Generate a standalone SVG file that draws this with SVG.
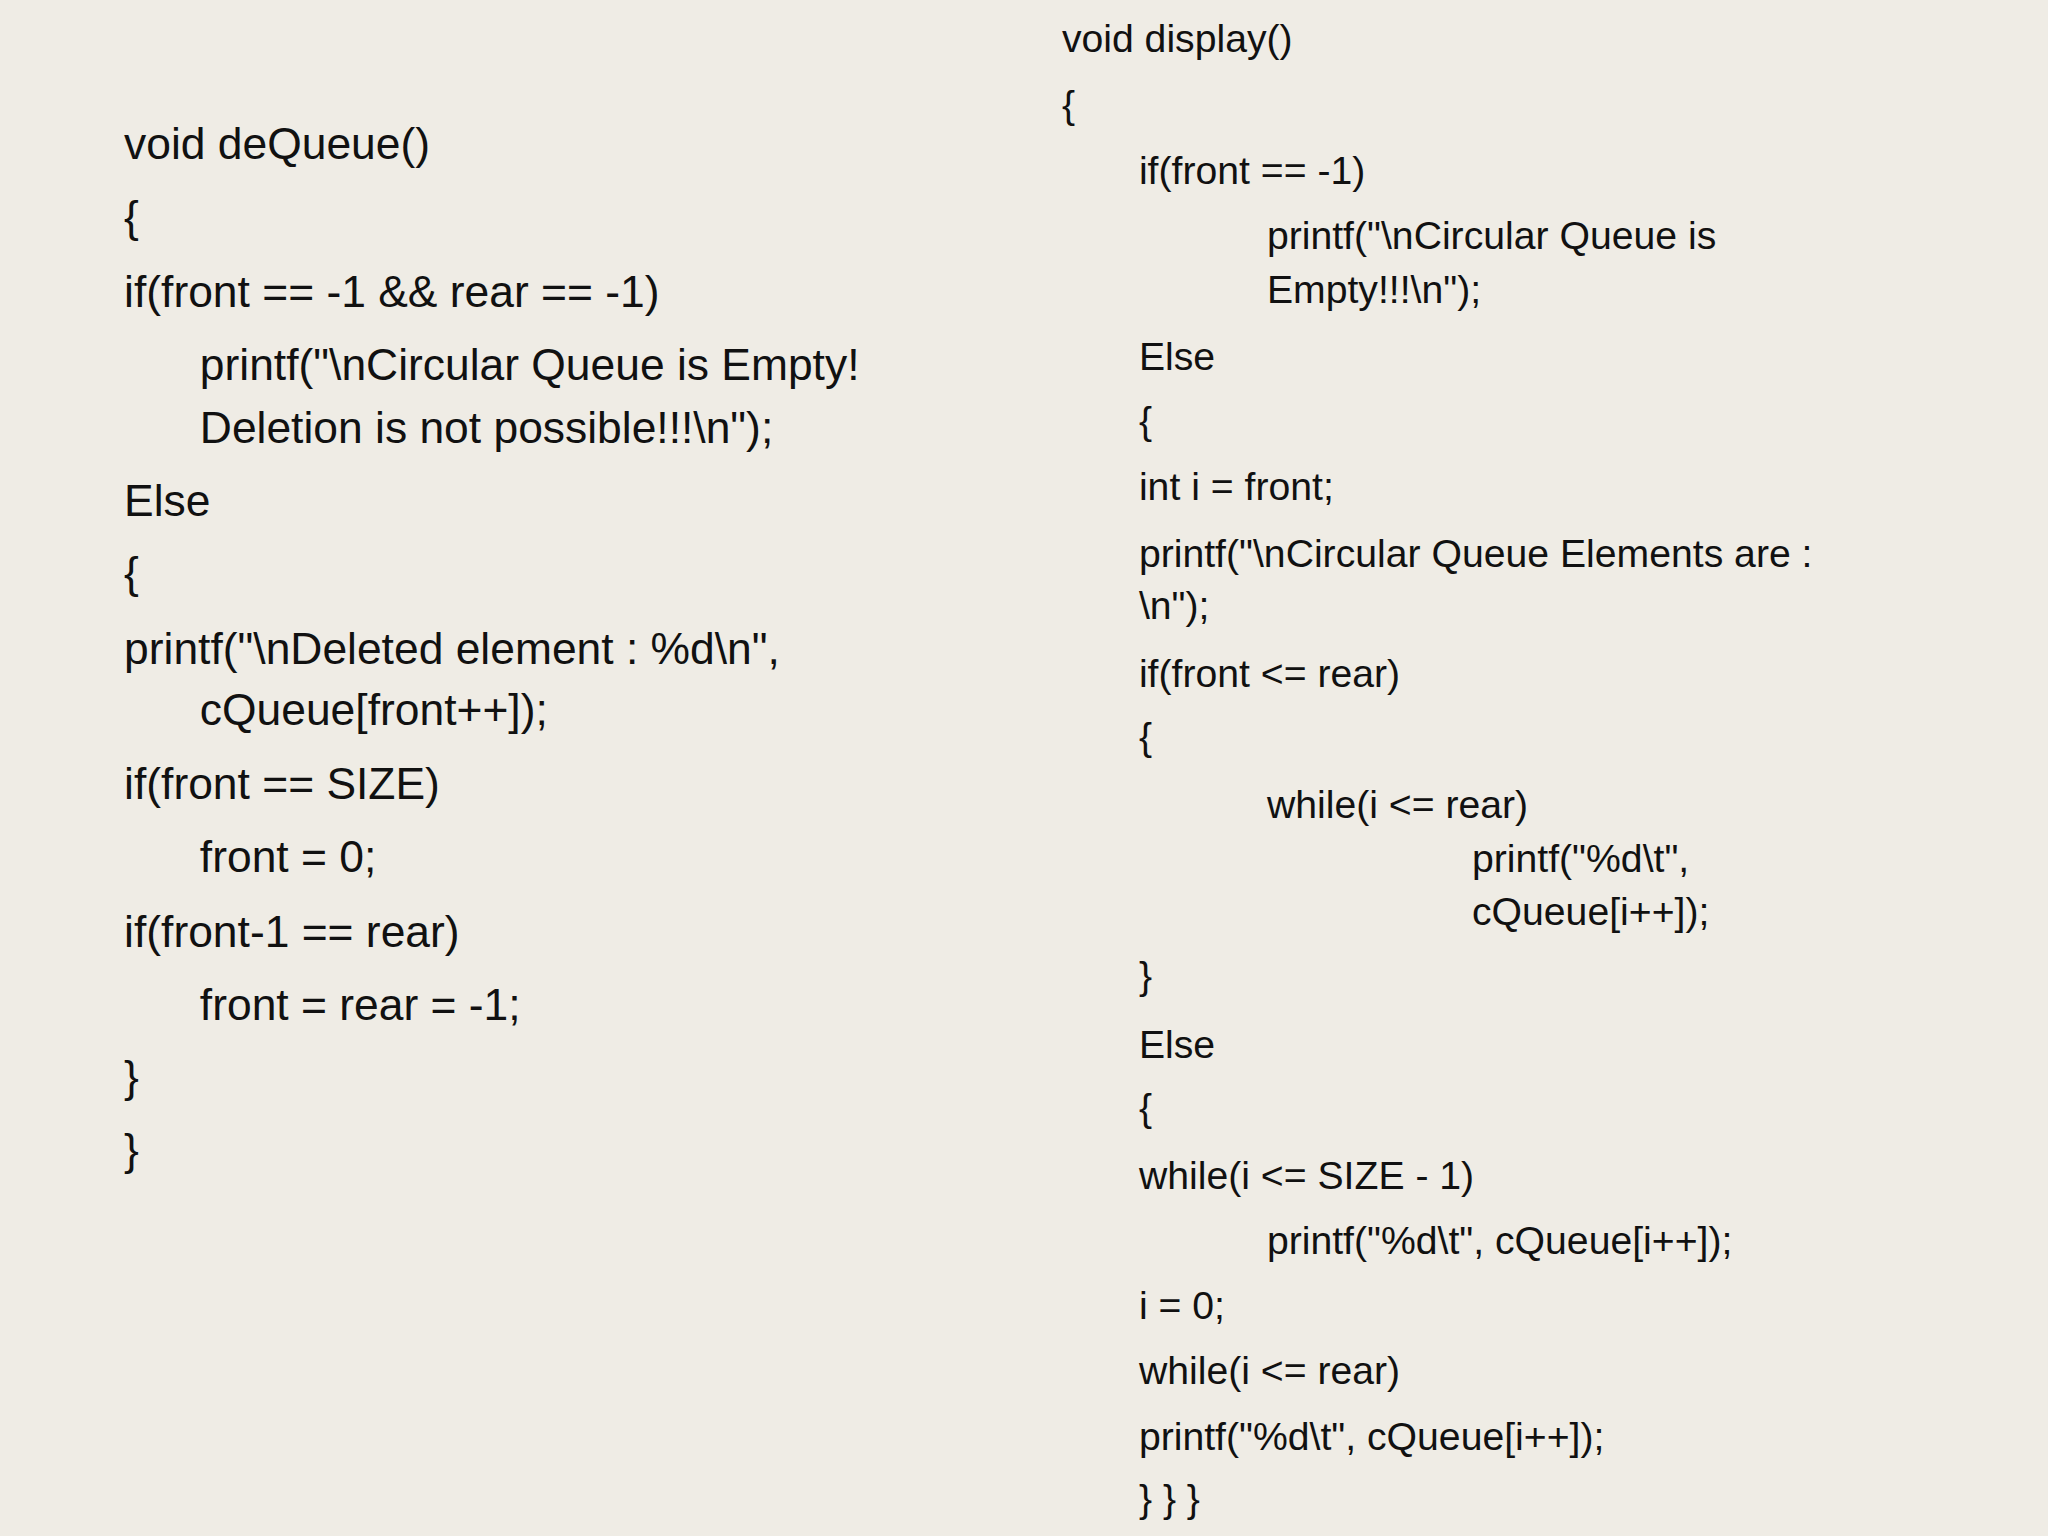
<svg xmlns="http://www.w3.org/2000/svg" width="2048" height="1536" viewBox="0 0 2048 1536">
<style>
.l{font-family:"Liberation Sans",Arial,sans-serif;font-size:34px;fill:#111}
.r{font-family:"Liberation Sans",Arial,sans-serif;font-size:30px;fill:#111}
</style>
<rect width="2048" height="1536" fill="#EFECE5"/>
<g transform="scale(1.30612)">
<g id="dequeue" class="l">
<text x="95" y="122">void deQueue()</text>
<text x="95" y="178">{</text>
<text x="95" y="235">if(front == -1 &amp;&amp; rear == -1)</text>
<text x="153" y="291">printf("\nCircular Queue is Empty!</text>
<text x="153" y="339">Deletion is not possible!!!\n");</text>
<text x="95" y="395">Else</text>
<text x="95" y="450">{</text>
<text x="95" y="508">printf("\nDeleted element : %d\n",</text>
<text x="153" y="555">cQueue[front++]);</text>
<text x="95" y="612">if(front == SIZE)</text>
<text x="153" y="668">front = 0;</text>
<text x="95" y="725">if(front-1 == rear)</text>
<text x="153" y="781">front = rear = -1;</text>
<text x="95" y="836">}</text>
<text x="95" y="892">}</text>
</g>
<g id="display" class="r">
<text x="813" y="40">void display()</text>
<text x="813" y="90">{</text>
<text x="872" y="141">if(front == -1)</text>
<text x="970" y="191">printf("\nCircular Queue is</text>
<text x="970" y="232">Empty!!!\n");</text>
<text x="872" y="283">Else</text>
<text x="872" y="332">{</text>
<text x="872" y="383">int i = front;</text>
<text x="872" y="434">printf("\nCircular Queue Elements are :</text>
<text x="872" y="474">\n");</text>
<text x="872" y="526">if(front &lt;= rear)</text>
<text x="872" y="574">{</text>
<text x="970" y="626">while(i &lt;= rear)</text>
<text x="1127" y="668">printf("%d\t",</text>
<text x="1127" y="708">cQueue[i++]);</text>
<text x="872" y="757">}</text>
<text x="872" y="810">Else</text>
<text x="872" y="858">{</text>
<text x="872" y="910">while(i &lt;= SIZE - 1)</text>
<text x="970" y="960">printf("%d\t", cQueue[i++]);</text>
<text x="872" y="1010">i = 0;</text>
<text x="872" y="1060">while(i &lt;= rear)</text>
<text x="872" y="1110">printf("%d\t", cQueue[i++]);</text>
<text x="872" y="1158">} } }</text>
</g>
</g>
</svg>
